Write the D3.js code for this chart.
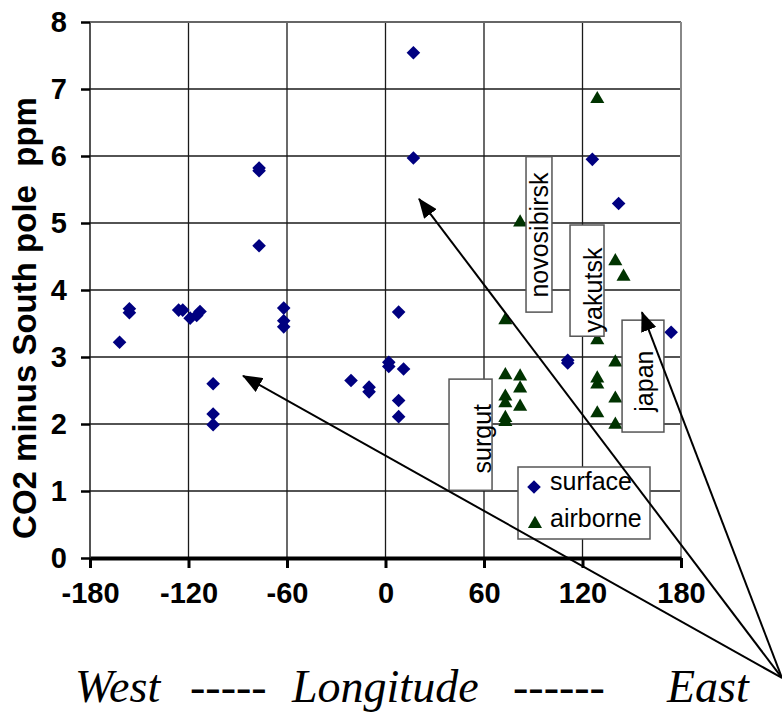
<!DOCTYPE html>
<html>
<head>
<meta charset="utf-8">
<script src="https://cdn.jsdelivr.net/npm/d3@7"></script>
<style>
  body { margin: 0; background: white; }
  svg { display: block; }
</style>
</head>
<body>
<div id="chart"></div>
<script>
// longitude (deg) and CO2 minus South pole (ppm)
let surfaceLon = [-162, -156, -156, -126, -123.5, -119, -115, -113, -105, -105, -105,
                  -77, -77, -77, -62, -62, -62, 17, 17, 8, 2, 2, 11, -21, -10, -10, 8, 8,
                  126, 142, 111, 111, 174];
let surfaceVal = [3.22, 3.72, 3.66, 3.70, 3.70, 3.58, 3.62, 3.68, 2.60, 2.15, 1.99,
                  5.82, 5.78, 4.66, 3.73, 3.54, 3.45, 7.54, 5.97, 3.67, 2.92, 2.86, 2.82, 2.65, 2.55, 2.48, 2.35, 2.11,
                  5.95, 5.29, 2.95, 2.91, 3.37];

let airborneLon = [129, 82, 140, 145, 73, 129, 140, 129, 129, 140, 129, 140,
                   73, 82, 82, 82, 73, 73, 73, 73];
let airborneVal = [6.85, 5.01, 4.43, 4.20, 3.55, 3.25, 2.92, 2.68, 2.59, 2.38, 2.16, 1.99,
                   2.73, 2.71, 2.53, 2.26, 2.41, 2.31, 2.09, 2.03];

let xTicks = [-180, -120, -60, 0, 60, 120, 180];
let yTicks = [0, 1, 2, 3, 4, 5, 6, 7, 8];

// site labels: box corners and text centre, in chart units
let siteNames = ["novosibirsk", "yakutsk", "japan", "surgut"];
let siteBox = [[85.6, 101.4, 5.99, 3.67], [112.4, 133.1, 4.97, 3.31], [144.1, 169.6, 3.55, 1.88], [38.7, 64.9, 2.67, 1.01]];
let siteText = [[93.5, 4.82], [126.4, 4.0], [157.5, 2.64], [58.8, 1.78]];

// arrows from the "East" corner to the three regions
let arrowFrom = [241.5, -1.79];
let arrowTo = [[-86.8, 2.72], [20.4, 5.36], [156.2, 3.67]];

let W = 782, H = 713;
let svg = d3.select("#chart").append("svg")
    .attr("width", W)
    .attr("height", H);

let x = d3.scaleLinear().domain([-180, 180]).range([90, 681]);
let y = d3.scaleLinear().domain([0, 8]).range([558, 22]);

// grid
svg.append("g").selectAll("line")
    .data(yTicks.filter(d => d > 0))
    .enter().append("line")
    .attr("x1", x(-180)).attr("x2", x(180))
    .attr("y1", d => y(d)).attr("y2", d => y(d))
    .attr("stroke", "#1a1a1a").attr("stroke-width", 1.3);
svg.append("g").selectAll("line")
    .data(xTicks.filter(d => d > -180 && d < 180))
    .enter().append("line")
    .attr("x1", d => x(d)).attr("x2", d => x(d))
    .attr("y1", y(0)).attr("y2", y(8))
    .attr("stroke", "#1a1a1a").attr("stroke-width", 1.3);
// frame: left, top, right
svg.append("line").attr("x1", x(-180)).attr("x2", x(-180)).attr("y1", y(0)).attr("y2", y(8))
    .attr("stroke", "#1a1a1a").attr("stroke-width", 1.5);
svg.append("line").attr("x1", x(-180)).attr("x2", x(180)).attr("y1", y(8)).attr("y2", y(8))
    .attr("stroke", "#666").attr("stroke-width", 2);
svg.append("line").attr("x1", x(180)).attr("x2", x(180)).attr("y1", y(0)).attr("y2", y(8))
    .attr("stroke", "#888").attr("stroke-width", 2);

let tickFont = function(sel) {
    sel.attr("fill", "#000")
        .style("font-family", "'Liberation Sans', Arial, sans-serif")
        .style("font-weight", "bold")
        .style("font-size", "29px");
};

// x axis
let xAxis = svg.append("g")
    .attr("transform", "translate(0," + y(0) + ")")
    .call(d3.axisBottom(x).tickValues(xTicks).tickFormat(d => String(d))
        .tickSize(10).tickPadding(14).tickSizeOuter(0));
xAxis.select(".domain").attr("stroke", "#000").attr("stroke-width", 4);
xAxis.selectAll(".tick line").attr("stroke", "#000").attr("stroke-width", 3);
xAxis.selectAll(".tick text").call(tickFont);

// y axis
let yAxis = svg.append("g")
    .attr("transform", "translate(" + x(-180) + ",0)")
    .call(d3.axisLeft(y).tickValues(yTicks).tickFormat(d => String(d))
        .tickSize(9).tickPadding(14).tickSizeOuter(0));
yAxis.select(".domain").remove();
yAxis.selectAll(".tick line").attr("stroke", "#000").attr("stroke-width", 2.5);
yAxis.selectAll(".tick text").call(tickFont);

svg.append("text")
    .attr("transform", "translate(36,318) rotate(-90)")
    .attr("text-anchor", "middle")
    .style("font-family", "'Liberation Sans', Arial, sans-serif")
    .style("font-weight", "bold")
    .style("font-size", "33px")
    .style("white-space", "pre")
    .text("CO2 minus South pole  ppm");

// points
let surface = surfaceLon.map((d, i) => ({lon: d, val: surfaceVal[i]}));
let airborne = airborneLon.map((d, i) => ({lon: d, val: airborneVal[i]}));

svg.append("g").selectAll("path")
    .data(surface)
    .enter().append("path")
    .attr("d", d3.symbol().type(d3.symbolDiamond2).size(118))
    .attr("transform", d => "translate(" + x(d.lon) + "," + y(d.val) + ")")
    .attr("fill", "#000080");

svg.append("g").selectAll("path")
    .data(airborne)
    .enter().append("path")
    .attr("d", d3.symbol().type(d3.symbolTriangle).size(86))
    .attr("transform", d => "translate(" + x(d.lon) + "," + y(d.val) + ")")
    .attr("fill", "#003300");

// site label boxes
siteNames.forEach(function(name, i) {
    let b = siteBox[i];
    svg.append("rect")
        .attr("x", x(b[0])).attr("y", y(b[2]))
        .attr("width", x(b[1]) - x(b[0]))
        .attr("height", y(b[3]) - y(b[2]))
        .attr("fill", "white")
        .attr("stroke", "#555").attr("stroke-width", 1.5);
    svg.append("text")
        .attr("transform", "translate(" + x(siteText[i][0]) + "," + y(siteText[i][1]) + ") rotate(-90)")
        .attr("text-anchor", "middle")
        .attr("dominant-baseline", "central")
        .style("font-family", "'Liberation Sans', Arial, sans-serif")
        .style("font-size", "25px")
        .text(name);
});

// legend
let lg = svg.append("g").attr("transform", "translate(518,467)");
lg.append("rect").attr("width", 132).attr("height", 72)
    .attr("fill", "white").attr("stroke", "#555").attr("stroke-width", 1.5);
lg.append("path").attr("d", d3.symbol().type(d3.symbolDiamond2).size(118))
    .attr("transform", "translate(16,20)").attr("fill", "#000080");
lg.append("path").attr("d", d3.symbol().type(d3.symbolTriangle).size(86))
    .attr("transform", "translate(17,57)").attr("fill", "#003300");
lg.append("text").attr("x", 32).attr("y", 23)
    .style("font-family", "'Liberation Sans', Arial, sans-serif").style("font-size", "25px")
    .text("surface");
lg.append("text").attr("x", 32).attr("y", 60)
    .style("font-family", "'Liberation Sans', Arial, sans-serif").style("font-size", "25px")
    .text("airborne");

// arrows
svg.append("defs").append("marker")
    .attr("id", "head")
    .attr("markerUnits", "userSpaceOnUse")
    .attr("viewBox", "0 0 20 16")
    .attr("refX", 19).attr("refY", 8)
    .attr("markerWidth", 20).attr("markerHeight", 16)
    .attr("orient", "auto")
    .append("path").attr("d", "M0,0 L20,8 L0,16 Z").attr("fill", "#000");

svg.append("g").selectAll("line")
    .data(arrowTo)
    .enter().append("line")
    .attr("x1", x(arrowFrom[0])).attr("y1", y(arrowFrom[1]))
    .attr("x2", d => x(d[0])).attr("y2", d => y(d[1]))
    .attr("stroke", "#000").attr("stroke-width", 2)
    .attr("marker-end", "url(#head)");

// bottom caption
let cap = svg.append("text")
    .attr("y", 702)
    .style("font-family", "'Liberation Serif', 'Times New Roman', serif")
    .style("font-style", "italic")
    .style("font-size", "46px");
[["West", 75], ["-----", 190], ["Longitude", 292], ["------", 513], ["East", 667]].forEach(function(p) {
    cap.append("tspan").attr("x", p[1]).text(p[0]);
});
</script>
</body>
</html>
